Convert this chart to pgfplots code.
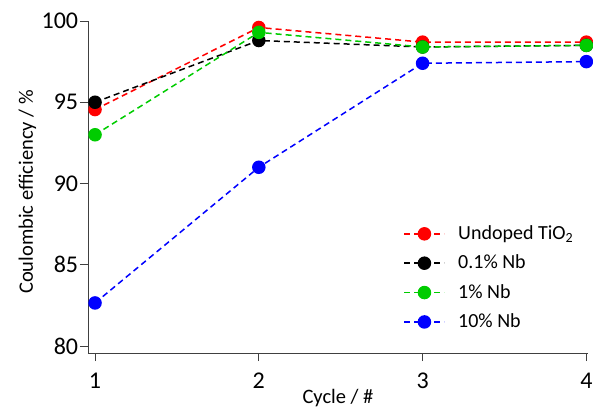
\documentclass[border=0pt]{standalone}
\usepackage{fontspec}
\setmainfont{Carlito}
\usepackage{pgfplots}
\pgfplotsset{compat=1.18}

\definecolor{cered}{RGB}{255,0,0}
\definecolor{ceblack}{RGB}{0,0,0}
\definecolor{cegreen}{RGB}{0,204,0}
\definecolor{ceblue}{RGB}{0,0,255}
\definecolor{axgray}{RGB}{64,64,64}

\begin{document}
\fontsize{20bp}{24bp}\selectfont
\begin{tikzpicture}
\begin{axis}[
    scale only axis,
    width=500bp, height=332bp,
    xmin=0.957, xmax=4.01,
    ymin=79.57, ymax=100,
    axis lines=left,
    axis line style={axgray, line width=0.8bp, -},
    xtick={1,2,3,4},
    ytick={80,85,90,95,100},
    tick align=outside,
    major tick length=8bp,
    tick style={axgray, line width=0.8bp},
    /pgf/number format/assume math mode=true,
    ticklabel style={font=\fontsize{24bp}{28bp}\selectfont},
    xticklabel style={yshift=-5bp},
    yticklabel style={xshift=5bp},
    xlabel={Cycle / \#},
    ylabel={Coulombic efficiency / \%},
    label style={font=\fontsize{20.5bp}{24bp}\selectfont},
    xlabel style={at={(rel axis cs:0.5,0)}, anchor=base, yshift=-50bp},
    ylabel style={at={(rel axis cs:0,0.485)}, anchor=base, yshift=55bp},
    every axis plot/.append style={dashed, dash pattern=on 6bp off 4bp, line width=1.5bp},
    legend cell align=left,
    legend style={draw=none, fill=none, at={(rel axis cs:0.625,0.397)}, anchor=north west,
        font=\fontsize{20bp}{24bp}\selectfont, row sep=8.5bp},
    legend image code/.code={
        \draw[mark repeat=2, mark phase=2] plot coordinates {(0bp,0bp) (20bp,0bp) (40bp,0bp)};
        \path (51bp,0bp);
    },
]
\addplot[cered, mark=*, mark size=6bp, mark options={solid, fill=cered}]
    coordinates {(1,94.55) (2,99.6) (3,98.7) (4,98.7)};
\addlegendentry{Undoped TiO\textsubscript{2}}
\addplot[ceblack, mark=*, mark size=6bp, mark options={solid, fill=ceblack}]
    coordinates {(1,95.0) (2,98.8) (3,98.4) (4,98.5)};
\addlegendentry{0.1\% Nb}
\addplot[cegreen, mark=*, mark size=6bp, mark options={solid, fill=cegreen}]
    coordinates {(1,93.0) (2,99.3) (3,98.4) (4,98.5)};
\addlegendentry{1\% Nb}
\addplot[ceblue, mark=*, mark size=6bp, mark options={solid, fill=ceblue}]
    coordinates {(1,82.65) (2,91.0) (3,97.4) (4,97.5)};
\addlegendentry{10\% Nb}
\coordinate (bl) at (rel axis cs:0,0);
\end{axis}
\pgfresetboundingbox
\path[use as bounding box] ([shift={(-88bp,-56bp)}]bl) rectangle ([shift={(505bp,353bp)}]bl);
\end{tikzpicture}
\end{document}
